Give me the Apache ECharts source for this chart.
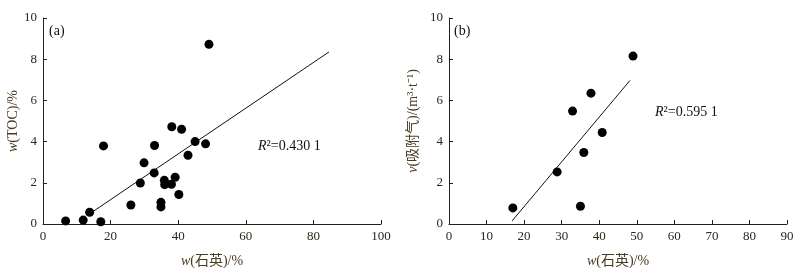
<!DOCTYPE html>
<html>
<head>
<meta charset="utf-8">
<script src="https://cdn.jsdelivr.net/npm/echarts@6/dist/echarts.min.js"></script>
<style>
   html, body { margin: 0; padding: 0; background: #fff; }
   #main { width: 802px; height: 275px; }
</style>
</head>
<body>
<div id="main"></div>
<script>
// (a) 石英含量 vs TOC
var quartzA = [ 6.7, 11.9, 13.8, 17.1, 17.9, 26.0, 28.8, 29.9, 32.9, 33.0, 34.9, 34.9, 35.9, 36.0, 38.0, 38.1, 39.1, 40.2, 41.0, 42.9, 45.0, 48.1, 49.1 ] ;
var tocA    = [ 0.15, 0.19, 0.57, 0.11, 3.79, 0.92, 1.99, 2.97, 2.48, 3.81, 1.05, 0.83, 2.12, 1.91, 1.93, 4.72, 2.27, 1.43, 4.60, 3.34, 4.00, 3.89, 8.72 ] ;
var fitA    = [ [ 13.3, 0.44 ], [ 84.6, 8.35 ] ] ;
// (b) 石英含量 vs 吸附气
var quartzB = [ 17.0, 28.8, 32.9, 35.0, 35.9, 37.8, 40.8, 49.0 ] ;
var gasB    = [ 0.78, 2.53, 5.48, 0.86, 3.47, 6.35, 4.44, 8.15 ] ;
var fitB    = [ [ 16.8, 0.15 ], [ 48.2, 6.97 ] ] ;
var r2Text  = [ '0.430 1', '0.595 1' ] ;

function pairs( xs, ys )
{
   var out = [] ;
   for( var i = 0; i < xs.length; ++i ) out.push( [ xs[i], ys[i] ] ) ;
   return out ;
}

var font = '"Liberation Serif", "Times New Roman", "Noto Sans CJK SC", serif' ;
var txtColor = '#2e261a' ;
var nameColor = '#4a3a22' ;

function xAxisOf( idx, max, interval )
{
   return {
      type: 'value', gridIndex: idx, min: 0, max: max, interval: interval,
      name: '{i|w}(石英)/%', nameLocation: 'middle', nameGap: 30,
      nameTextStyle: { color: nameColor, fontFamily: font, fontSize: 14,
                       rich: { i: { fontStyle: 'italic', fontFamily: font, fontSize: 14, color: nameColor } } },
      axisLine: { lineStyle: { color: '#222', width: 1 } },
      axisTick: { inside: true, length: 4, lineStyle: { color: '#222' } },
      axisLabel: { color: txtColor, fontFamily: font, fontSize: 13, margin: 6 },
      splitLine: { show: false }
   } ;
}

function yAxisOf( idx, name, gap )
{
   return {
      type: 'value', gridIndex: idx, min: 0, max: 10, interval: 2,
      name: name, nameLocation: 'middle', nameGap: gap,
      nameTextStyle: { color: nameColor, fontFamily: font, fontSize: 14,
                       rich: { i: { fontStyle: 'italic', fontFamily: font, fontSize: 14, color: nameColor } } },
      axisLine: { show: true, lineStyle: { color: '#222', width: 1 } },
      axisTick: { show: true, inside: true, length: 4, lineStyle: { color: '#222' } },
      axisLabel: { color: txtColor, fontFamily: font, fontSize: 13, margin: 6 },
      splitLine: { show: false }
   } ;
}

function scatterOf( idx, data )
{
   return {
      type: 'scatter', xAxisIndex: idx, yAxisIndex: idx, data: data,
      symbol: 'circle', symbolSize: 9, itemStyle: { color: '#000', opacity: 1 }, silent: true
   } ;
}

function fitOf( idx, data )
{
   return {
      type: 'line', xAxisIndex: idx, yAxisIndex: idx, data: data,
      symbol: 'none', lineStyle: { color: '#111', width: 1 }, silent: true, z: 1
   } ;
}

function labelOf( left, top, text )
{
   return { type: 'text', left: left, top: top,
            style: { text: text, fontFamily: font, fontSize: 14, fill: '#111' } } ;
}

function r2Of( left, top, val )
{
   return { type: 'text', left: left, top: top,
            style: { text: '{i|R}²=' + val, fontFamily: font, fontSize: 14, fill: '#111',
                     rich: { i: { fontStyle: 'italic', fontFamily: font, fontSize: 14, fill: '#111' } } } } ;
}

var chart = echarts.init( document.getElementById( 'main' ) ) ;
chart.setOption( {
   animation: false,
   grid: [
      { left: 43, right: 421, top: 18, bottom: 51 },
      { left: 449, right: 15, top: 18, bottom: 51 }
   ],
   xAxis: [ xAxisOf( 0, 100, 20 ), xAxisOf( 1, 90, 10 ) ],
   yAxis: [ yAxisOf( 0, '{i|w}(TOC)/%', 22 ), yAxisOf( 1, '{i|v}(吸附气)/(m³·t⁻¹)', 29 ) ],
   series: [
      fitOf( 0, fitA ),
      scatterOf( 0, pairs( quartzA, tocA ) ),
      fitOf( 1, fitB ),
      scatterOf( 1, pairs( quartzB, gasB ) )
   ],
   graphic: [
      labelOf( 49, 24, '(a)' ),
      labelOf( 454, 24, '(b)' ),
      r2Of( 258, 139, r2Text[0] ),
      r2Of( 655, 105, r2Text[1] )
   ]
} ) ;
</script>
</body>
</html>
